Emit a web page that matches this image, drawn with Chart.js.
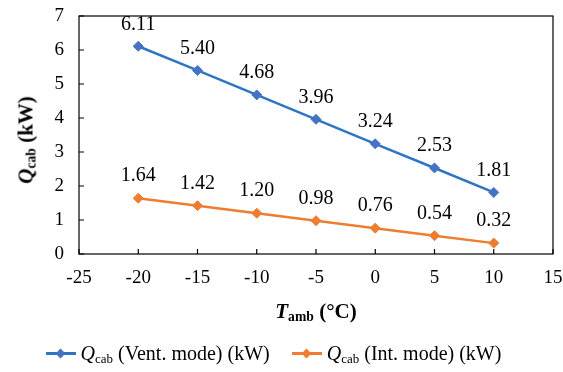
<!DOCTYPE html>
<html>
<head>
<meta charset="utf-8">
<script src="https://cdn.jsdelivr.net/npm/chart.js@4/dist/chart.umd.min.js"></script>
<style>
  html, body { margin: 0; padding: 0; background: #fff; }
  #wrap {
    position: relative; width: 563px; height: 372px;
    font-family: "Liberation Serif", "Times New Roman", serif; color: #000;
  }
  #cabChart { position: absolute; left: 0; top: 0; }
  .axis-title { position: absolute; font-weight: bold; font-size: 21px; white-space: nowrap; line-height: 1; }
  .axis-title sub, .legend sub { font-size: 0.65em; vertical-align: -0.25em; line-height: 0; }
  #xTitle { left: 0; width: 632px; top: 301px; text-align: center; }
  #yTitle { left: 26px; top: 140px; transform: translate(-50%, -50%) rotate(-90deg); }
  .legend {
    position: absolute; left: -8px; top: 343px; width: 563px;
    display: flex; justify-content: center; gap: 22px; font-size: 20px; line-height: 1;
  }
  .legend .item { display: flex; align-items: center; }
  .legend .key { position: relative; width: 30px; height: 14px; margin-right: 5px; }
  .legend .key .ln { position: absolute; left: 0; right: 0; top: 6px; height: 2.5px; }
  .legend .key .dm { position: absolute; left: 11px; top: 3.5px; width: 7px; height: 7px; transform: rotate(45deg); }
</style>
</head>
<body>
<div id="wrap">
  <canvas id="cabChart" width="563" height="372"></canvas>
  <div class="axis-title" id="yTitle"><i>Q</i><sub>cab</sub> (kW)</div>
  <div class="axis-title" id="xTitle"><i>T</i><sub>amb</sub> (°C)</div>
  <div class="legend">
    <div class="item">
      <div class="key"><div class="ln" style="background:#2e75c4"></div><div class="dm" style="background:#4472c4"></div></div>
      <span><i>Q</i><sub>cab</sub> (Vent. mode) (kW)</span>
    </div>
    <div class="item">
      <div class="key"><div class="ln" style="background:#ed7d31"></div><div class="dm" style="background:#ed7d31"></div></div>
      <span><i>Q</i><sub>cab</sub> (Int. mode) (kW)</span>
    </div>
  </div>
</div>
<script>
"use strict";

/* ── Data ─────────────────────────────────────────────────────────────── */
const ambientTemps = [-20, -15, -10, -5, 0, 5, 10];
const ventModeLoad = [6.11, 5.40, 4.68, 3.96, 3.24, 2.53, 1.81];
const intModeLoad  = [1.64, 1.42, 1.20, 0.98, 0.76, 0.54, 0.32];
const seriesNames  = ["Qcab (Vent. mode) (kW)", "Qcab (Int. mode) (kW)"];

const FONT = "'Liberation Serif', 'Times New Roman', serif";

/* ── Plugins ──────────────────────────────────────────────────────────── */
// Box round the plot area plus small inward tick marks (Excel style)
const frameAndTicks = {
  id: "frameAndTicks",
  afterDatasetsDraw(chart) {
    const { ctx, chartArea: a, scales } = chart;
    ctx.save();
    ctx.strokeStyle = "#000";
    ctx.lineWidth = 1.2;
    ctx.strokeRect(a.left, a.top, a.right - a.left, a.bottom - a.top);
    ctx.beginPath();
    scales.x.ticks.forEach((t) => {
      const x = scales.x.getPixelForValue(t.value);
      ctx.moveTo(x, a.bottom);
      ctx.lineTo(x, a.bottom - 5);
    });
    scales.y.ticks.forEach((t) => {
      const y = scales.y.getPixelForValue(t.value);
      ctx.moveTo(a.left, y);
      ctx.lineTo(a.left + 5, y);
    });
    ctx.stroke();
    ctx.restore();
  },
};

// Value labels above each point
const pointLabels = {
  id: "pointLabels",
  afterDatasetsDraw(chart) {
    const { ctx } = chart;
    ctx.save();
    ctx.font = `20px ${FONT}`;
    ctx.fillStyle = "#000";
    ctx.textAlign = "center";
    ctx.textBaseline = "middle";
    chart.data.datasets.forEach((ds, i) => {
      chart.getDatasetMeta(i).data.forEach((pt, j) => {
        ctx.fillText(ds.data[j].y.toFixed(2), pt.x, pt.y - 22);
      });
    });
    ctx.restore();
  },
};

/* ── Chart ────────────────────────────────────────────────────────────── */
function toPoints(values) {
  return values.map((v, i) => ({ x: ambientTemps[i], y: v }));
}

function initCabChart() {
  const ctx = document.getElementById("cabChart").getContext("2d");

  new Chart(ctx, {
    type: "scatter",
    data: {
      datasets: [
        {
          label: seriesNames[0],
          data: toPoints(ventModeLoad),
          showLine: true,
          borderColor: "#2e75c4",
          borderWidth: 2.5,
          pointStyle: "rectRot",
          pointRadius: 5,
          pointBackgroundColor: "#4472c4",
          pointBorderColor: "#4472c4",
          pointBorderWidth: 1,
        },
        {
          label: seriesNames[1],
          data: toPoints(intModeLoad),
          showLine: true,
          borderColor: "#ed7d31",
          borderWidth: 2.5,
          pointStyle: "rectRot",
          pointRadius: 5,
          pointBackgroundColor: "#ed7d31",
          pointBorderColor: "#ed7d31",
          pointBorderWidth: 1,
        },
      ],
    },
    options: {
      responsive: false,
      animation: false,
      layout: { padding: { left: 0, right: 10, top: 16, bottom: 0 } },
      plugins: {
        legend: { display: false },
        tooltip: { enabled: false },
      },
      scales: {
        x: {
          type: "linear",
          min: -25,
          max: 15,
          grid: { display: false, drawTicks: false },
          border: { display: false },
          ticks: {
            stepSize: 5,
            color: "#000",
            padding: 13,
            maxRotation: 0,
            font: { family: FONT, size: 19 },
          },
          afterFit: (s) => {
            s.height = 118;
            s.paddingLeft = 0;
            s.paddingRight = 0;
          },
        },
        y: {
          min: 0,
          max: 7,
          grid: { display: false, drawTicks: false },
          border: { display: false },
          ticks: {
            stepSize: 1,
            color: "#000",
            padding: 15,
            font: { family: FONT, size: 19 },
          },
          afterFit: (s) => {
            s.width = 79;
            s.paddingTop = 0;
            s.paddingBottom = 0;
          },
        },
      },
    },
    plugins: [frameAndTicks, pointLabels],
  });
}

document.addEventListener("DOMContentLoaded", initCabChart);
</script>
</body>
</html>
